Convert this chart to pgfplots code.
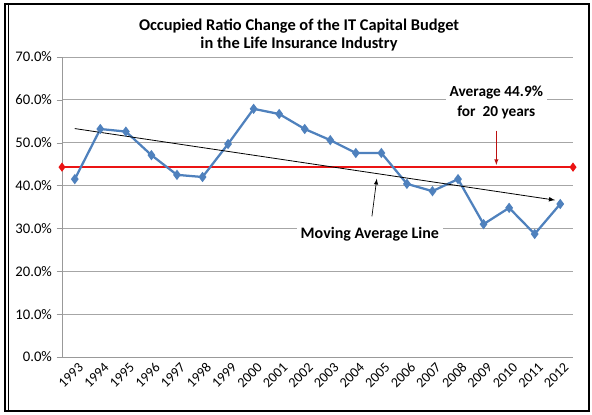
\documentclass[border=0pt]{standalone}
\usepackage{pgfplots}
\pgfplotsset{compat=1.18}
\usepackage{fontspec}
\setmainfont{Carlito}
\definecolor{avgred}{RGB}{235,20,20}
\definecolor{serblue}{RGB}{79,129,189}
\begin{document}
\begin{tikzpicture}[x=0.75pt,y=0.75pt]
\path[use as bounding box] (0,0) rectangle (592,414);
\draw[black,line width=1.2pt] (5,3) rectangle (589,410);
\draw[black,line width=0.6pt] (8,3) -- (8,410);
\node[font=\bfseries\fontsize{12.3}{14}\selectfont,align=center] at (299,379) {Occupied Ratio Change of the IT Capital Budget\\in the Life Insurance Industry};
\begin{axis}[
  at={(62pt*0.75,57pt*0.75)}, anchor=south west,
  scale only axis, width=383.25pt, height=225pt,
  xmin=-0.5, xmax=19.5, ymin=0, ymax=70,
  axis x line*=bottom, axis y line*=left,
  axis line style={gray!80, -},
  xtick={0,...,19},
  xticklabels={1993,1994,1995,1996,1997,1998,1999,2000,2001,2002,2003,2004,2005,2006,2007,2008,2009,2010,2011,2012},
  x tick label style={rotate=45, anchor=north east, font=\fontsize{10.5}{12}\selectfont, inner sep=1pt, xshift=3pt},
  x tick style={draw=none},
  extra x ticks={-0.5,0.5,...,19.5},
  extra x tick labels={},
  extra x tick style={grid=none, major tick length=4pt, tick align=outside, tick style={gray!80}},
  ytick={0,10,...,70},
  yticklabels={0.0\%,10.0\%,20.0\%,30.0\%,40.0\%,50.0\%,60.0\%,70.0\%},
  y tick label style={font=\fontsize{11}{12}\selectfont},
  tick align=outside, major tick length=4pt,
  y tick style={gray!80},
  ymajorgrids, grid style={gray!70, line width=0.6pt},
  /pgf/number format/assume math mode=true,
  clip=false,
]
\addplot[draw=avgred, line width=1.1pt, mark=diamond*, mark size=2.6pt, mark options={draw=avgred, fill=avgred}] coordinates {(-0.5,44.3) (19.5,44.3)};
\addplot[draw=serblue, line width=1.7pt, mark=diamond*, mark size=2.5pt, mark options={draw=serblue, fill=serblue}] coordinates {
(0,41.5) (1,53.2) (2,52.6) (3,47.1) (4,42.5) (5,42.0) (6,49.7) (7,57.9) (8,56.7) (9,53.2) (10,50.6) (11,47.6) (12,47.6) (13,40.4) (14,38.7) (15,41.5) (16,31.0) (17,34.8) (18,28.7) (19,35.7)};
\addplot[black, line width=0.6pt, -latex] coordinates {(0,53.3) (18.8,36.6)};
\node[fill=white, font=\bfseries\fontsize{11.5}{14.5}\selectfont, align=center, inner sep=3pt] at (axis cs:16.5,59.4) {Average 44.9\%\\for \ 20 years};
\draw[avgred!80!black, line width=0.5pt, -latex] (axis cs:16.5,52.8) -- (axis cs:16.5,44.8);
\node[fill=white, font=\bfseries\fontsize{12}{14}\selectfont, inner sep=3pt] at (axis cs:11.55,28.7) {Moving Average Line};
\draw[black, line width=0.5pt, -latex] (axis cs:11.63,32.8) -- (axis cs:11.82,41.6);
\end{axis}
\end{tikzpicture}
\end{document}
